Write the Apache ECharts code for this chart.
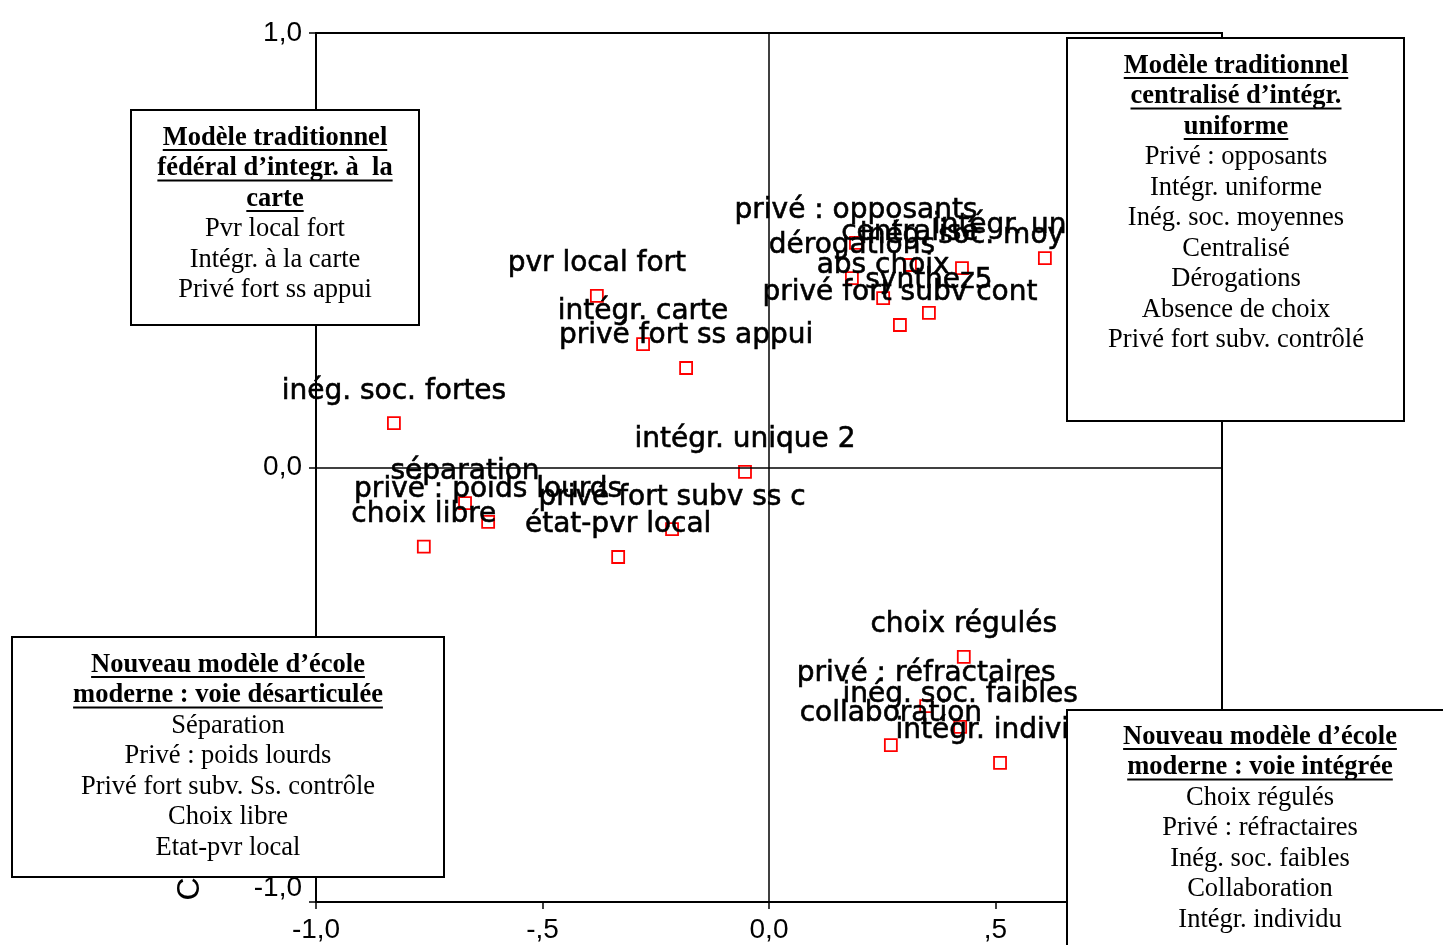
<!DOCTYPE html>
<html><head><meta charset="utf-8">
<script src="https://cdn.jsdelivr.net/npm/echarts@6/dist/echarts.min.js"></script>
<style>html,body{margin:0;padding:0;background:#fff}#c{width:1443px;height:945px}</style>
</head><body><div id="c"></div>
<script>
// ---- data ----
const pointLabels = ["inég. soc. fortes","pvr local fort","intégr. carte","privé fort ss appui","intégr. unique 2",
  "séparation","privé : poids lourds","choix libre","état-pvr local","privé fort subv ss c",
  "privé : opposants","dérogations","centralisé","inég. soc. moy","intégr. uniforme","abs choix","synthez5","privé fort subv cont",
  "choix régulés","privé : réfractaires","inég. soc. faibles","collaboration","intégr. individu"];
const xValues = [-0.828,-0.380,-0.278,-0.183,-0.053,
  -0.671,-0.620,-0.762,-0.333,-0.214,
  0.192,0.183,0.311,0.426,0.609,0.252,0.353,0.289,
  0.430,0.347,0.422,0.269,0.510];
const yValues = [0.102,0.395,0.284,0.229,-0.010,
  -0.082,-0.125,-0.182,-0.206,-0.142,
  0.517,0.436,0.466,0.459,0.482,0.390,0.356,0.328,
  -0.436,-0.549,-0.597,-0.639,-0.680];
const xTicks = [-1,-0.5,0,0.5,1];
const xTickLabels = ["-1,0","-,5","0,0",",5","1,0"];
const yTicks = [-1,0,1];
const yTickLabels = ["-1,0","0,0","1,0"];
const yAxisTitle = "C";

const box1Title = ["Modèle traditionnel","fédéral d’integr. à  la","carte"];
const box1Lines = ["Pvr local fort","Intégr. à la carte","Privé fort ss appui"];
const box2Title = ["Modèle traditionnel","centralisé d’intégr.","uniforme"];
const box2Lines = ["Privé : opposants","Intégr. uniforme","Inég. soc. moyennes","Centralisé","Dérogations","Absence de choix","Privé fort subv. contrôlé"];
const box3Title = ["Nouveau modèle d’école","moderne : voie désarticulée"];
const box3Lines = ["Séparation","Privé : poids lourds","Privé fort subv. Ss. contrôle","Choix libre","Etat-pvr local"];
const box4Title = ["Nouveau modèle d’école","moderne : voie intégrée"];
const box4Lines = ["Choix régulés","Privé : réfractaires","Inég. soc. faibles","Collaboration","Intégr. individu"];

// ---- layout ----
const serif = "'Liberation Serif','Times New Roman',serif";
const boxFont = 26.5, lineH = 30.5;
const cnv = document.createElement('canvas').getContext('2d');
function measure(t, bold){ cnv.font = (bold?'bold ':'') + boxFont + 'px ' + serif; return cnv.measureText(t).width; }

function makeBox(rect, cx, y0, titles, lines){
  const els = [{type:'rect', z:100, shape:{x:rect[0],y:rect[1],width:rect[2],height:rect[3]},
    style:{fill:'#fff', stroke:'#000', lineWidth:2}}];
  let y = y0;
  titles.forEach(t => {
    els.push({type:'text', z:101, x:cx, y:y, style:{text:t, fontFamily:serif, fontSize:boxFont, fontWeight:'bold',
      fill:'#000', align:'center', verticalAlign:'middle', textAlign:'center', textVerticalAlign:'middle'}});
    const w = measure(t, true);
    els.push({type:'line', z:101, shape:{x1:cx-w/2, y1:y+12, x2:cx+w/2, y2:y+12}, style:{stroke:'#000', lineWidth:2}});
    y += lineH;
  });
  lines.forEach(t => {
    els.push({type:'text', z:101, x:cx, y:y, style:{text:t, fontFamily:serif, fontSize:boxFont,
      fill:'#000', align:'center', verticalAlign:'middle', textAlign:'center', textVerticalAlign:'middle'}});
    y += lineH;
  });
  return els;
}

const graphics = [].concat(
  [{type:'text', z:99, x:190, y:889, rotation:Math.PI/2,
    style:{text:yAxisTitle, fontFamily:"'Liberation Sans',Arial,sans-serif", fontSize:32, fill:'#000',
      align:'center', verticalAlign:'middle', textAlign:'center', textVerticalAlign:'middle'}}],
  makeBox([131,110,288,215], 275, 138, box1Title, box1Lines),
  makeBox([1067,38,337,383], 1236, 66, box2Title, box2Lines),
  makeBox([12,637,432,240], 228, 665, box3Title, box3Lines),
  makeBox([1067,710,400,260], 1260, 737, box4Title, box4Lines)
);

function tickFmt(ticks, labs){
  return v => { const i = ticks.findIndex(t => Math.abs(t - v) < 1e-9); return i >= 0 ? labs[i] : ''; };
}
const yFmt = tickFmt(yTicks, yTickLabels);

const chart = echarts.init(document.getElementById('c'), null, {renderer:'canvas'});
chart.setOption({
  animation:false,
  backgroundColor:'#fff',
  grid:{left:316, right:221, top:33, bottom:43, show:true, borderColor:'#000', borderWidth:2, backgroundColor:'transparent'},
  xAxis:{type:'value', min:-1, max:1, interval:0.5,
    axisLine:{show:true, onZero:false, lineStyle:{color:'#000', width:2}},
    axisTick:{show:true, length:7, lineStyle:{color:'#000', width:1.5}},
    splitLine:{show:false},
    axisLabel:{formatter:tickFmt(xTicks, xTickLabels), color:'#000', fontSize:28, margin:14,
      fontFamily:"'Liberation Sans',Arial,sans-serif"}},
  yAxis:{type:'value', min:-1, max:1, interval:1,
    axisLine:{show:true, onZero:false, lineStyle:{color:'#000', width:2}},
    axisTick:{show:true, length:7, lineStyle:{color:'#000', width:1.5}},
    splitLine:{show:false},
    axisLabel:{formatter:v => (Math.abs(v + 1) < 1e-9 ? '{low|' + yFmt(v) + '}' : yFmt(v)),
      color:'#000', fontSize:28, margin:14, fontFamily:"'Liberation Sans',Arial,sans-serif",
      rich:{low:{color:'#000', fontSize:28, fontFamily:"'Liberation Sans',Arial,sans-serif", padding:[0,0,28,0]}}}},
  series:[{
    type:'scatter',
    data: xValues.map((x,i) => ({value:[x, yValues[i]], name:pointLabels[i]})),
    symbol:'rect', symbolSize:12,
    itemStyle:{color:'transparent', borderColor:'#ff0000', borderWidth:1.8, opacity:1},
    label:{show:true, position:['50%', -25], align:'center', verticalAlign:'middle', opacity:1,
      formatter:p => p.name, color:'#000000', fontSize:28, fontFamily:"'DejaVu Sans',sans-serif",
      textBorderColor:'#000000', textBorderWidth:0.6},
    emphasis:{disabled:true},
    labelLayout:{hideOverlap:false},
    markLine:{silent:true, symbol:['none','none'], label:{show:false},
      lineStyle:{color:'#000', width:1.5, type:'solid'},
      data:[{xAxis:0},{yAxis:0}]}
  }],
  graphic: graphics
});
</script>
</body></html>
